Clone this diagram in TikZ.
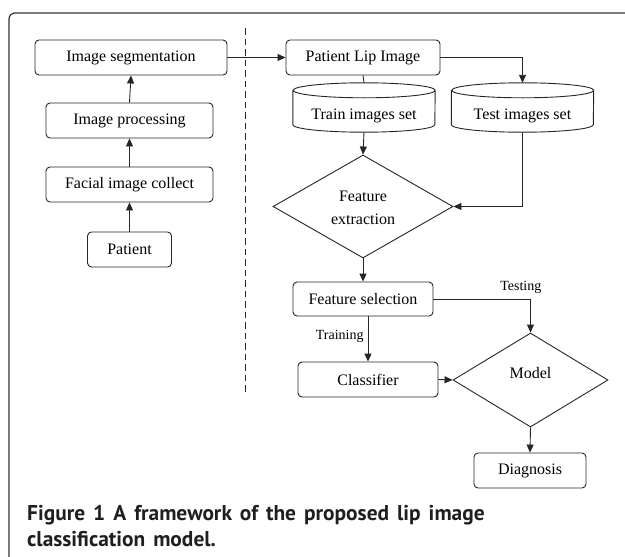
\documentclass[tikz,border=0pt]{standalone}
\usepackage{fontspec}
\setmainfont{Liberation Serif}
\newfontfamily\capfont{PT Sans}
\newcommand\mycapspace{\spaceskip=8pt plus 1pt\relax}
\usetikzlibrary{arrows.meta,shapes.geometric}
\tikzset{
  ln/.style={line width=0.9pt, draw=black!85},
  arr/.style={ln, -{Triangle[length=8pt,width=7pt]}},
  rbox/.style={ln, rounded corners=4pt, inner sep=0pt, font=\fontsize{16}{18}\selectfont, minimum height=35pt},
  cylbox/.style={inner sep=0pt, minimum width=142pt, minimum height=49pt},
  cyltext/.style={inner sep=0pt, font=\fontsize{16}{18}\selectfont},
  dia/.style={ln, diamond, inner sep=0pt},
  lbl/.style={inner sep=0pt, font=\fontsize{14}{16}\selectfont},
  captxt/.style={inner sep=0pt, anchor=base west, font=\capfont\bfseries\fontsize{21.4}{26}\selectfont, text=black!88}
}
\begin{document}
\begin{tikzpicture}[x=1pt,y=1pt]
\useasboundingbox (0,0) rectangle (625,-557);
% frame
\draw[line width=1.2pt, draw=black!80, rounded corners=6pt] (9,-557) -- (9,-13) -- (625,-13);
% left column
\node[rbox, minimum width=192pt] (seg) at (131,-57.5) {Image segmentation};
\node[rbox, minimum width=167pt] (proc) at (129.5,-120.5) {Image processing};
\node[rbox, minimum width=167pt] (facial) at (129.5,-184.5) {Facial image collect};
\node[rbox, minimum width=84pt] (patient) at (129.5,-249.5) {Patient};
\draw[arr] (patient.north) -- (facial.south);
\draw[arr] (facial.north) -- (proc.south);
\draw[arr] (proc.north) -- (seg.south);
% dashed separator
\coordinate (dtop) at (245,-28);
\coordinate (dbot) at (245,-393);
\draw[line width=0.9pt, draw=black!85, dash pattern=on 6.5pt off 4pt] (dtop) -- (dbot);
% right column
\node[rbox, minimum width=154pt] (pli) at (363,-57.5) {Patient Lip Image};
\node[cylbox] (train) at (364,-107.5) {};
\node[cylbox] (test) at (522.5,-107.5) {};
\foreach \c in {train,test}{
  \draw[ln] ([yshift=-7.5pt]\c.north west) -- ([yshift=7.5pt]\c.south west)
    arc (180:360:71pt and 7.5pt) -- ([yshift=-7.5pt]\c.north east)
    arc (0:360:71pt and 7.5pt);
}
\node[cyltext] (trainl) at ([yshift=-8pt]train.center) {Train images set};
\node[cyltext] (testl) at ([yshift=-8pt]test.center) {Test images set};
\node[dia, minimum width=180pt, minimum height=103pt, aspect=1.75] (fe) at (363,-206.5) {};
\node[cyltext, align=center, font=\fontsize{16}{23}\selectfont] (fel) at (363,-207.5) {Feature\\extraction};
\node[rbox, minimum width=140pt, minimum height=34pt] (fs) at (363,-299) {Feature selection};
\node[rbox, minimum width=140pt] (cls) at (368,-379.5) {Classifier};
\node[dia, minimum width=155pt, minimum height=94pt, aspect=1.65] (model) at (530.5,-380) {};
\node[cyltext] (modell) at (530.5,-373) {Model};
\node[rbox, minimum width=112pt] (diag) at (530,-470.5) {Diagnosis};
% connectors
\draw[arr] (seg.east) -- (pli.west);
\draw[ln] (pli.south) -- (train.north);
\draw[arr] (pli.east) -| (test.north);
\draw[arr] (train.south) -- (fe.north);
\draw[arr] (test.south) |- (fe.east);
\draw[arr] (fe.south) -- (fs.north);
\draw[arr] (cls.north |- fs.south) -- node[lbl, left=4pt, pos=0.45] (trn) {Training} (cls.north);
\draw[arr] (fs.east) -| node[lbl, above=5pt, pos=0.45] (tst) {Testing} (model.north);
\draw[arr] (cls.east) -- (model.west);
\draw[arr] (model.south) -- (diag.north);
% caption
\node[captxt] (cap1) at (27,-520) {\mycapspace Figure 1 A framework of the proposed lip image};
\node[captxt] (cap2) at (27,-546) {\mycapspace classification model.};
\end{tikzpicture}
\end{document}
